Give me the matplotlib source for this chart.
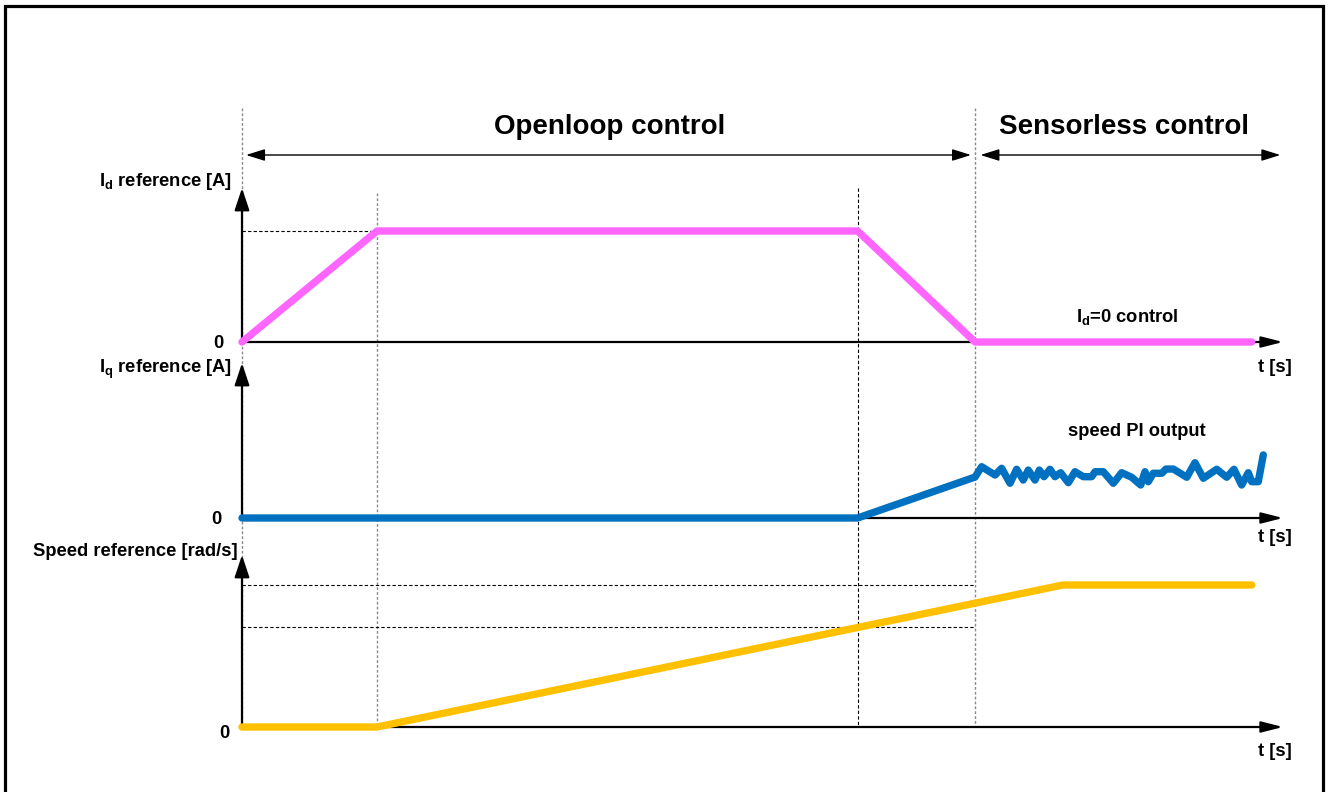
import matplotlib
matplotlib.use("Agg")
import matplotlib.pyplot as plt
import matplotlib.transforms as mtransforms
import numpy as np

plt.rcParams["font.family"] = ["Liberation Sans", "DejaVu Sans"]
plt.rcParams["font.weight"] = "bold"
plt.rcParams["mathtext.fontset"] = "custom"
plt.rcParams["mathtext.bf"] = "Liberation Sans:bold"
plt.rcParams["mathtext.rm"] = "Liberation Sans:bold"
plt.rcParams["mathtext.default"] = "bf"

# ---------------------------------------------------------------- data
# event times [s]
t_ramp_end = 1.0      # Id ramp finished, speed ramp starts
t_hold_end = 4.56     # Id starts ramping down, Iq starts rising
t_switch = 5.43       # switch to sensorless control
t_speed_max = 6.08    # speed reference reaches its final value
t_end = 7.48

id_time = [0.0, t_ramp_end, t_hold_end, t_switch, t_end]
id_ref = [0.0, 1.0, 1.0, 0.0, 0.0]

iq_time = [0.0, t_hold_end, t_switch,
           5.479, 5.578, 5.627, 5.689, 5.738, 5.787, 5.824, 5.874, 5.906,
           5.941, 5.985, 6.022, 6.064, 6.121, 6.170, 6.232, 6.294, 6.319,
           6.380, 6.454, 6.516, 6.590, 6.657, 6.689, 6.713, 6.750, 6.813,
           6.844, 6.899, 6.998, 7.059, 7.121, 7.220, 7.294, 7.348, 7.405,
           7.454, 7.479, 7.528, 7.565]
iq_ref = [0.0, 0.0, 0.369,
          0.462, 0.387, 0.448, 0.313, 0.439, 0.342, 0.432, 0.342, 0.432,
          0.372, 0.439, 0.372, 0.408, 0.318, 0.417, 0.372, 0.372, 0.417,
          0.417, 0.313, 0.408, 0.367, 0.297, 0.417, 0.327, 0.403, 0.403,
          0.441, 0.441, 0.367, 0.498, 0.358, 0.439, 0.367, 0.439, 0.297,
          0.408, 0.327, 0.327, 0.568]

speed_time = [0.0, t_ramp_end, t_speed_max, t_end]
speed_ref = [0.0, 0.0, 100.0, 100.0]

# ---------------------------------------------------------------- layout
W, H = 1328, 792
X_ORIGIN = 242          # pixel column of t = 0
PX_PER_S = 135
X_RIGHT = 1300
C_ID = "#FF66FF"
C_IQ = "#0070C0"
C_SPEED = "#FFC000"

fig = plt.figure(figsize=(W / 100, H / 100), dpi=100)
fig.patch.set_facecolor("white")

# full-figure layer for frame, guides and captions (pixel units)
lay = fig.add_axes([0, 0, 1, 1])
lay.set_xlim(0, W)
lay.set_ylim(H, 0)
lay.axis("off")


def panel(zero_px, top_px, px_per_unit):
    bot = zero_px + 12
    ax = fig.add_axes([X_ORIGIN / W, 1 - bot / H,
                       (X_RIGHT - X_ORIGIN) / W, (bot - top_px) / H])
    ax.set_xlim(0, (X_RIGHT - X_ORIGIN) / PX_PER_S)
    ax.set_ylim(-(bot - zero_px) / px_per_unit, (zero_px - top_px) / px_per_unit)
    ax.axis("off")
    ax.patch.set_visible(False)
    return ax


ax_id = panel(342, 180, 111.0)
ax_iq = panel(518, 355, 111.0)
ax_sp = panel(727, 545, 1.42)

# time on x, figure pixels on y
guide_tf = mtransforms.blended_transform_factory(ax_id.transData, lay.transData)

# frame
lay.plot([5, 5, 1323, 1323], [H + 5, 6, 6, H + 5], color="black", lw=2.3,
         solid_joinstyle="miter", clip_on=False)

# vertical guides at the event times
dot = dict(color="#8a8a8a", lw=1.0, linestyle=(0, (2, 1.5)))
lay.plot([0, 0], [108, 727], transform=guide_tf, **dot)
lay.plot([t_ramp_end, t_ramp_end], [193, 727], transform=guide_tf, **dot)
lay.plot([t_switch, t_switch], [108, 727], transform=guide_tf, **dot)
lay.plot([t_hold_end, t_hold_end], [188, 727], transform=guide_tf,
         color="black", lw=0.8, linestyle=(0, (3, 2)))

# phase arrows
phase_arrow = dict(arrowstyle="<|-|>,head_length=1.15,head_width=0.36",
                   mutation_scale=10, lw=1.0, color="black",
                   shrinkA=0, shrinkB=0)
axis_end = (1283 - X_ORIGIN) / PX_PER_S
lay.annotate("", xy=(t_switch - 0.03, 155), xytext=(0.03, 155),
             xycoords=guide_tf, textcoords=guide_tf, arrowprops=phase_arrow)
lay.annotate("", xy=(axis_end - 0.02, 155), xytext=(t_switch + 0.04, 155),
             xycoords=guide_tf, textcoords=guide_tf, arrowprops=phase_arrow)
lay.text(610, 127, "Openloop control", fontsize=20, ha="center", va="center")
lay.text(1124, 127, "Sensorless control", fontsize=20, ha="center", va="center")

# panel axes with arrow heads
x_arrow = dict(arrowstyle="-|>,head_length=1.3,head_width=0.33",
               mutation_scale=10, lw=1.6, color="black", shrinkA=0, shrinkB=0)
y_arrow = dict(arrowstyle="-|>,head_length=1.35,head_width=0.45",
               mutation_scale=10, lw=1.6, color="black", shrinkA=0, shrinkB=0)
for ax, y_tip in ((ax_id, 1.387), (ax_iq, 1.396), (ax_sp, 121.1)):
    ax.annotate("", xy=(axis_end, 0), xytext=(0, 0), arrowprops=x_arrow,
                annotation_clip=False)
    ax.annotate("", xy=(0, y_tip), xytext=(0, 0), arrowprops=y_arrow,
                annotation_clip=False)

# horizontal reference levels
dash = dict(color="black", lw=0.8, linestyle=(0, (3, 2)))
id_plateau = max(id_ref)
ax_id.plot([0, t_ramp_end], [id_plateau, id_plateau], **dash)
speed_hold = np.interp(t_hold_end, speed_time, speed_ref)
speed_final = max(speed_ref)
ax_sp.plot([0, t_switch], [speed_final, speed_final], **dash)
ax_sp.plot([0, t_switch], [speed_hold, speed_hold], **dash)

# reference curves
curve = dict(lw=5.3, solid_capstyle="round", solid_joinstyle="round",
             clip_on=False, zorder=5)
ax_id.plot(id_time, id_ref, color=C_ID, **curve)
ax_iq.plot(iq_time, iq_ref, color=C_IQ, **curve)
ax_sp.plot(speed_time, speed_ref, color=C_SPEED, **curve)

# captions
fs = 13.2
lay.text(232, 182, r"$\mathbf{I_d}$ reference [A]", fontsize=fs, ha="right", va="center")
lay.text(232, 369, r"$\mathbf{I_q}$ reference [A]", fontsize=fs, ha="right", va="center")
lay.text(238, 552, "Speed reference [rad/s]", fontsize=fs, ha="right", va="center")
lay.text(224, 344, "0", fontsize=fs, ha="right", va="center")
lay.text(221, 520, "0", fontsize=fs, ha="right", va="center")
lay.text(230, 733, "0", fontsize=fs, ha="right", va="center")
for y in (368, 538, 751):
    lay.text(1275, y, "t [s]", fontsize=fs, ha="center", va="center")
lay.text(1127, 317, r"$\mathbf{I_d}$=0 control", fontsize=fs, ha="center", va="center")
lay.text(1137, 431, "speed PI output", fontsize=fs, ha="center", va="center")

fig.savefig("out.png", dpi=100, facecolor="white")
